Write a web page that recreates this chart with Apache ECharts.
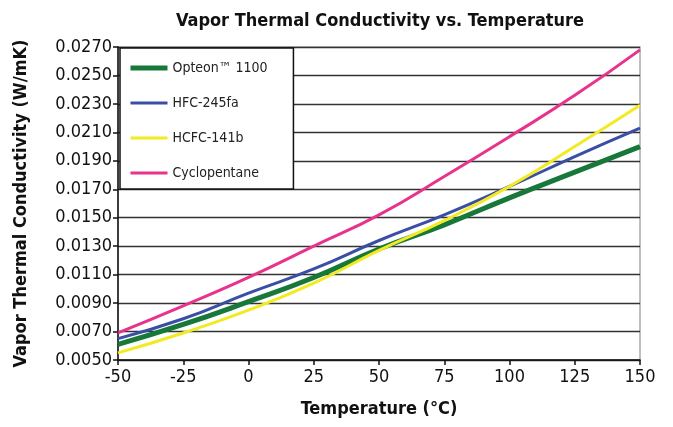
<!DOCTYPE html>
<html>
<head>
<meta charset="utf-8">
<script src="https://cdn.jsdelivr.net/npm/echarts@6/dist/echarts.min.js"></script>
<style>
  html, body { margin: 0; padding: 0; background: #fff; }
  #chart { width: 673px; height: 427px; }
</style>
</head>
<body>
<div id="chart"></div>
<script>
// temperatures (deg C)
const temps = [-50, -25, 0, 25, 50, 75, 100, 125, 150];
// vapor thermal conductivity (W/mK)
const opteon = [0.0061, 0.0075, 0.0091, 0.0108, 0.0128, 0.0145, 0.0164, 0.0182, 0.0200];
const hfc245fa = [0.0065, 0.0079, 0.0097, 0.0114, 0.0134, 0.0152, 0.0172, 0.0193, 0.0213];
const hcfc141b = [0.0055, 0.0069, 0.0085, 0.0104, 0.0127, 0.0148, 0.0172, 0.0200, 0.0229];
const cyclopentane = [0.0069, 0.0088, 0.0108, 0.0130, 0.0152, 0.0179, 0.0207, 0.0236, 0.0268];

const names = ['Opteon™ 1100', 'HFC-245fa', 'HCFC-141b', 'Cyclopentane'];
const colors = ['#17783a', '#3a4ea6', '#f2ea22', '#e8338c'];
const widths = [5, 3, 3, 3];
const values = [opteon, hfc245fa, hcfc141b, cyclopentane];

const font = '"DejaVu Sans Condensed", "Liberation Sans", sans-serif';

let myChart = echarts.init(document.getElementById('chart'));

let series = names.map((n, i) => ({
    name: n,
    type: 'line',
    smooth: true,
    symbol: 'none',
    data: temps.map((t, j) => [t, values[i][j]]),
    lineStyle: {color: colors[i], width: widths[i]},
    itemStyle: {color: colors[i]}
}));

myChart.setOption({
    animation: false,
    textStyle: {fontFamily: font},
    title: {
        text: 'Vapor Thermal Conductivity vs. Temperature',
        left: 375,
        textAlign: 'center',
        top: 7,
        textStyle: {fontFamily: font, fontSize: 18, fontWeight: 'bold', color: '#111'}
    },
    legend: {
        orient: 'vertical',
        left: 120,
        top: 48,
        data: names,
        itemWidth: 37,
        itemHeight: 14,
        itemGap: 21,
        padding: [13, 26, 9, 8],
        borderColor: '#111',
        borderWidth: 1.5,
        backgroundColor: '#fff',
        itemStyle: {opacity: 0},
        lineStyle: {width: 'inherit'},
        textStyle: {fontFamily: font, fontSize: 14, color: '#222'}
    },
    grid: {
        left: 118, right: 33, top: 47, bottom: 67,
        show: true,
        borderColor: '#aaa',
        borderWidth: 1.5
    },
    xAxis: {
        type: 'value',
        min: -50,
        max: 150,
        interval: 25,
        name: 'Temperature (°C)',
        nameLocation: 'middle',
        nameGap: 40,
        nameTextStyle: {fontFamily: font, fontSize: 18, fontWeight: 'bold', color: '#111'},
        axisLine: {onZero: false, lineStyle: {color: '#111', width: 1.5}},
        axisTick: {show: true, length: 5, lineStyle: {color: '#111', width: 1.5}},
        axisLabel: {fontFamily: font, fontSize: 18, color: '#111', margin: 8},
        splitLine: {show: false}
    },
    yAxis: {
        type: 'value',
        min: 0.005,
        max: 0.027,
        interval: 0.002,
        name: 'Vapor Thermal Conductivity (W/mK)',
        nameLocation: 'middle',
        nameGap: 88,
        nameTextStyle: {fontFamily: font, fontSize: 18, fontWeight: 'bold', color: '#111'},
        axisLine: {show: true, onZero: false, lineStyle: {color: '#111', width: 1.5}},
        axisTick: {show: true, length: 5, lineStyle: {color: '#111', width: 1.5}},
        axisLabel: {
            fontFamily: font, fontSize: 18, color: '#111', margin: 6,
            formatter: v => v.toFixed(4)
        },
        splitLine: {show: true, lineStyle: {color: '#333', width: 1.3}}
    },
    series: series
});
</script>
</body>
</html>
